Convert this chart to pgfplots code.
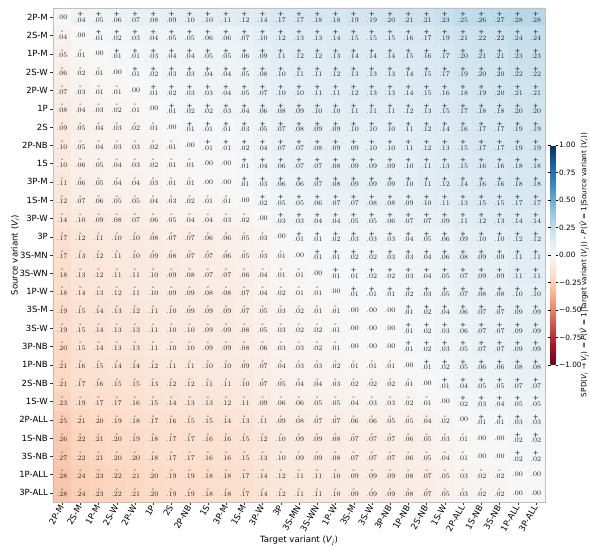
\documentclass[border=0pt]{standalone}
\usepackage{fontspec}
\setmainfont{DejaVu Sans}
\usepackage{pgfplots}
\pgfplotsset{compat=1.18}

\newcommand\Vi{\textit{V}\textsubscript{\textit{i}}}
\newcommand\Vj{\textit{V}\textsubscript{\textit{j}}}
\newcommand\tickfont{\fontsize{8.5}{10}\selectfont}
\newcommand\valfont{\fontsize{7}{8}\selectfont}
\newcommand\cbfont{\fontsize{7.3}{9}\selectfont}
\newcommand\labfont{\fontsize{8.6}{10}\selectfont}

\newcommand\celllab[1]{%
  \ifdim#1pt>0.004pt\relax\def\sgn{+}%
  \else\ifdim#1pt<-0.004pt\relax\def\sgn{-}%
  \else\def\sgn{}\fi\fi
  \pgfmathparse{abs(#1)}\edef\av{\pgfmathresult}%
  \ifx\sgn\empty
    \pgfmathprintnumber[fixed,fixed zerofill,precision=2,skip 0.]{\av}%
  \else
    \shortstack{\sgn\\[-2pt]\pgfmathprintnumber[fixed,fixed zerofill,precision=2,skip 0.]{\av}}%
  \fi}

\begin{document}
\begin{tikzpicture}
\begin{axis}[
  name=main,
  scale only axis, width=492pt, height=494pt,
  xmin=-0.5, xmax=26.5, ymin=-0.5, ymax=26.5,
  y dir=reverse, enlargelimits=false, axis on top,
  xtick={0,...,26}, ytick={0,...,26},
  xticklabels={2P-M,2S-M,1P-M,2S-W,2P-W,1P,2S,2P-NB,1S,3P-M,1S-M,3P-W,3P,3S-MN,3S-WN,1P-W,3S-M,3S-W,3P-NB,1P-NB,2S-NB,1S-W,2P-ALL,1S-NB,3S-NB,1P-ALL,3P-ALL},
  yticklabels={2P-M,2S-M,1P-M,2S-W,2P-W,1P,2S,2P-NB,1S,3P-M,1S-M,3P-W,3P,3S-MN,3S-WN,1P-W,3S-M,3S-W,3P-NB,1P-NB,2S-NB,1S-W,2P-ALL,1S-NB,3S-NB,1P-ALL,3P-ALL},
  tick label style={font=\tickfont},
  xticklabel style={rotate=60, anchor=east, inner sep=1pt},
  yticklabel style={inner sep=2pt},
  tick align=outside, tick pos=left, major tick length=3pt,
  tick style={black!80},
  axis line style={gray!50},
  xlabel={Target variant (\Vj)}, ylabel={Source variant (\Vi)},
  label style={font=\labfont},
  xlabel style={at={(axis description cs:0.5,-0.079)}, anchor=center},
  ylabel style={at={(axis description cs:-0.077,0.5)}, anchor=center},
  colormap={RdBu}{rgb255=(103,0,31) rgb255=(178,24,43) rgb255=(214,96,77) rgb255=(244,165,130) rgb255=(253,219,199) rgb255=(247,247,247) rgb255=(209,229,240) rgb255=(146,197,222) rgb255=(67,147,195) rgb255=(33,102,172) rgb255=(5,48,97)},
  point meta min=-1, point meta max=1,
  colorbar,
  colorbar style={
    at={(parent axis.north east)}, anchor=north west, xshift=-3pt, yshift=-137pt,
    scale only axis, width=5pt, height=220pt,
    ytick={-1,-0.75,-0.5,-0.25,0,0.25,0.5,0.75,1},
    yticklabels={−1.00,−0.75,−0.50,−0.25,0.00,0.25,0.50,0.75,1.00},
    yticklabel style={font=\cbfont, inner sep=1pt},
    major tick length=2.5pt, tick align=outside,
    axis line style={draw=none}, tick style={black},
  },
  clip=false,
]
\addplot[matrix plot*, mesh/cols=27, point meta=explicit,
  visualization depends on={value \thisrow{c}\as\cval},
  nodes near coords={\celllab{\cval}},
  nodes near coords style={anchor=center, font=\valfont, inner sep=0pt, text=black!85}]
table[meta=c, row sep=\\] {
x y c\\
0 0 0\\ 1 0 0.04\\ 2 0 0.05\\ 3 0 0.06\\ 4 0 0.07\\ 5 0 0.08\\ 6 0 0.09\\ 7 0 0.10\\ 8 0 0.10\\ 9 0 0.11\\ 10 0 0.12\\ 11 0 0.14\\ 12 0 0.17\\ 13 0 0.17\\ 14 0 0.18\\ 15 0 0.18\\ 16 0 0.19\\ 17 0 0.19\\ 18 0 0.20\\ 19 0 0.21\\ 20 0 0.21\\ 21 0 0.23\\ 22 0 0.25\\ 23 0 0.26\\ 24 0 0.27\\ 25 0 0.28\\ 26 0 0.28\\
0 1 -0.04\\ 1 1 0\\ 2 1 0.01\\ 3 1 0.02\\ 4 1 0.03\\ 5 1 0.04\\ 6 1 0.05\\ 7 1 0.05\\ 8 1 0.06\\ 9 1 0.06\\ 10 1 0.07\\ 11 1 0.10\\ 12 1 0.12\\ 13 1 0.13\\ 14 1 0.13\\ 15 1 0.14\\ 16 1 0.15\\ 17 1 0.15\\ 18 1 0.15\\ 19 1 0.16\\ 20 1 0.17\\ 21 1 0.19\\ 22 1 0.21\\ 23 1 0.22\\ 24 1 0.22\\ 25 1 0.24\\ 26 1 0.24\\
0 2 -0.05\\ 1 2 -0.01\\ 2 2 0\\ 3 2 0.01\\ 4 2 0.01\\ 5 2 0.03\\ 6 2 0.04\\ 7 2 0.04\\ 8 2 0.05\\ 9 2 0.05\\ 10 2 0.06\\ 11 2 0.09\\ 12 2 0.11\\ 13 2 0.12\\ 14 2 0.12\\ 15 2 0.13\\ 16 2 0.14\\ 17 2 0.14\\ 18 2 0.14\\ 19 2 0.15\\ 20 2 0.16\\ 21 2 0.17\\ 22 2 0.20\\ 23 2 0.21\\ 24 2 0.21\\ 25 2 0.23\\ 26 2 0.23\\
0 3 -0.06\\ 1 3 -0.02\\ 2 3 -0.01\\ 3 3 0\\ 4 3 0.01\\ 5 3 0.02\\ 6 3 0.03\\ 7 3 0.03\\ 8 3 0.04\\ 9 3 0.04\\ 10 3 0.05\\ 11 3 0.08\\ 12 3 0.10\\ 13 3 0.11\\ 14 3 0.11\\ 15 3 0.12\\ 16 3 0.13\\ 17 3 0.13\\ 18 3 0.13\\ 19 3 0.14\\ 20 3 0.15\\ 21 3 0.17\\ 22 3 0.19\\ 23 3 0.20\\ 24 3 0.20\\ 25 3 0.22\\ 26 3 0.22\\
0 4 -0.07\\ 1 4 -0.03\\ 2 4 -0.01\\ 3 4 -0.01\\ 4 4 0\\ 5 4 0.01\\ 6 4 0.02\\ 7 4 0.03\\ 8 4 0.03\\ 9 4 0.04\\ 10 4 0.05\\ 11 4 0.07\\ 12 4 0.10\\ 13 4 0.10\\ 14 4 0.11\\ 15 4 0.11\\ 16 4 0.12\\ 17 4 0.13\\ 18 4 0.13\\ 19 4 0.14\\ 20 4 0.15\\ 21 4 0.16\\ 22 4 0.18\\ 23 4 0.19\\ 24 4 0.20\\ 25 4 0.21\\ 26 4 0.21\\
0 5 -0.08\\ 1 5 -0.04\\ 2 5 -0.03\\ 3 5 -0.02\\ 4 5 -0.01\\ 5 5 0\\ 6 5 0.01\\ 7 5 0.02\\ 8 5 0.02\\ 9 5 0.03\\ 10 5 0.04\\ 11 5 0.06\\ 12 5 0.08\\ 13 5 0.09\\ 14 5 0.10\\ 15 5 0.10\\ 16 5 0.11\\ 17 5 0.11\\ 18 5 0.11\\ 19 5 0.12\\ 20 5 0.13\\ 21 5 0.15\\ 22 5 0.17\\ 23 5 0.18\\ 24 5 0.18\\ 25 5 0.20\\ 26 5 0.20\\
0 6 -0.09\\ 1 6 -0.05\\ 2 6 -0.04\\ 3 6 -0.03\\ 4 6 -0.02\\ 5 6 -0.01\\ 6 6 0\\ 7 6 0.01\\ 8 6 0.01\\ 9 6 0.01\\ 10 6 0.03\\ 11 6 0.05\\ 12 6 0.07\\ 13 6 0.08\\ 14 6 0.09\\ 15 6 0.09\\ 16 6 0.10\\ 17 6 0.10\\ 18 6 0.10\\ 19 6 0.11\\ 20 6 0.12\\ 21 6 0.14\\ 22 6 0.16\\ 23 6 0.17\\ 24 6 0.17\\ 25 6 0.19\\ 26 6 0.19\\
0 7 -0.10\\ 1 7 -0.05\\ 2 7 -0.04\\ 3 7 -0.03\\ 4 7 -0.03\\ 5 7 -0.02\\ 6 7 -0.01\\ 7 7 0\\ 8 7 0.01\\ 9 7 0.01\\ 10 7 0.02\\ 11 7 0.04\\ 12 7 0.07\\ 13 7 0.07\\ 14 7 0.08\\ 15 7 0.09\\ 16 7 0.09\\ 17 7 0.10\\ 18 7 0.10\\ 19 7 0.11\\ 20 7 0.12\\ 21 7 0.13\\ 22 7 0.15\\ 23 7 0.17\\ 24 7 0.17\\ 25 7 0.19\\ 26 7 0.19\\
0 8 -0.10\\ 1 8 -0.06\\ 2 8 -0.05\\ 3 8 -0.04\\ 4 8 -0.03\\ 5 8 -0.02\\ 6 8 -0.01\\ 7 8 -0.01\\ 8 8 0\\ 9 8 0\\ 10 8 0.01\\ 11 8 0.04\\ 12 8 0.06\\ 13 8 0.07\\ 14 8 0.07\\ 15 8 0.08\\ 16 8 0.09\\ 17 8 0.09\\ 18 8 0.09\\ 19 8 0.10\\ 20 8 0.11\\ 21 8 0.13\\ 22 8 0.15\\ 23 8 0.16\\ 24 8 0.16\\ 25 8 0.18\\ 26 8 0.18\\
0 9 -0.11\\ 1 9 -0.06\\ 2 9 -0.05\\ 3 9 -0.04\\ 4 9 -0.04\\ 5 9 -0.03\\ 6 9 -0.01\\ 7 9 -0.01\\ 8 9 0\\ 9 9 0\\ 10 9 0.01\\ 11 9 0.03\\ 12 9 0.06\\ 13 9 0.06\\ 14 9 0.07\\ 15 9 0.08\\ 16 9 0.09\\ 17 9 0.09\\ 18 9 0.09\\ 19 9 0.10\\ 20 9 0.11\\ 21 9 0.12\\ 22 9 0.14\\ 23 9 0.16\\ 24 9 0.16\\ 25 9 0.18\\ 26 9 0.18\\
0 10 -0.12\\ 1 10 -0.07\\ 2 10 -0.06\\ 3 10 -0.05\\ 4 10 -0.05\\ 5 10 -0.04\\ 6 10 -0.03\\ 7 10 -0.02\\ 8 10 -0.01\\ 9 10 -0.01\\ 10 10 0\\ 11 10 0.02\\ 12 10 0.05\\ 13 10 0.05\\ 14 10 0.06\\ 15 10 0.07\\ 16 10 0.07\\ 17 10 0.08\\ 18 10 0.08\\ 19 10 0.09\\ 20 10 0.10\\ 21 10 0.11\\ 22 10 0.13\\ 23 10 0.15\\ 24 10 0.15\\ 25 10 0.17\\ 26 10 0.17\\
0 11 -0.14\\ 1 11 -0.10\\ 2 11 -0.09\\ 3 11 -0.08\\ 4 11 -0.07\\ 5 11 -0.06\\ 6 11 -0.05\\ 7 11 -0.04\\ 8 11 -0.04\\ 9 11 -0.03\\ 10 11 -0.02\\ 11 11 0\\ 12 11 0.03\\ 13 11 0.03\\ 14 11 0.04\\ 15 11 0.04\\ 16 11 0.05\\ 17 11 0.05\\ 18 11 0.06\\ 19 11 0.07\\ 20 11 0.07\\ 21 11 0.09\\ 22 11 0.11\\ 23 11 0.12\\ 24 11 0.13\\ 25 11 0.14\\ 26 11 0.14\\
0 12 -0.17\\ 1 12 -0.12\\ 2 12 -0.11\\ 3 12 -0.10\\ 4 12 -0.10\\ 5 12 -0.08\\ 6 12 -0.07\\ 7 12 -0.07\\ 8 12 -0.06\\ 9 12 -0.06\\ 10 12 -0.05\\ 11 12 -0.03\\ 12 12 0\\ 13 12 0.01\\ 14 12 0.01\\ 15 12 0.02\\ 16 12 0.03\\ 17 12 0.03\\ 18 12 0.03\\ 19 12 0.04\\ 20 12 0.05\\ 21 12 0.06\\ 22 12 0.09\\ 23 12 0.10\\ 24 12 0.10\\ 25 12 0.12\\ 26 12 0.12\\
0 13 -0.17\\ 1 13 -0.13\\ 2 13 -0.12\\ 3 13 -0.11\\ 4 13 -0.10\\ 5 13 -0.09\\ 6 13 -0.08\\ 7 13 -0.07\\ 8 13 -0.07\\ 9 13 -0.06\\ 10 13 -0.05\\ 11 13 -0.03\\ 12 13 -0.01\\ 13 13 0\\ 14 13 0.01\\ 15 13 0.01\\ 16 13 0.02\\ 17 13 0.02\\ 18 13 0.03\\ 19 13 0.03\\ 20 13 0.04\\ 21 13 0.06\\ 22 13 0.08\\ 23 13 0.09\\ 24 13 0.09\\ 25 13 0.11\\ 26 13 0.11\\
0 14 -0.18\\ 1 14 -0.13\\ 2 14 -0.12\\ 3 14 -0.11\\ 4 14 -0.11\\ 5 14 -0.10\\ 6 14 -0.09\\ 7 14 -0.08\\ 8 14 -0.07\\ 9 14 -0.07\\ 10 14 -0.06\\ 11 14 -0.04\\ 12 14 -0.01\\ 13 14 -0.01\\ 14 14 0\\ 15 14 0.01\\ 16 14 0.01\\ 17 14 0.02\\ 18 14 0.02\\ 19 14 0.03\\ 20 14 0.04\\ 21 14 0.05\\ 22 14 0.07\\ 23 14 0.09\\ 24 14 0.09\\ 25 14 0.11\\ 26 14 0.11\\
0 15 -0.18\\ 1 15 -0.14\\ 2 15 -0.13\\ 3 15 -0.12\\ 4 15 -0.11\\ 5 15 -0.10\\ 6 15 -0.09\\ 7 15 -0.09\\ 8 15 -0.08\\ 9 15 -0.08\\ 10 15 -0.07\\ 11 15 -0.04\\ 12 15 -0.02\\ 13 15 -0.01\\ 14 15 -0.01\\ 15 15 0\\ 16 15 0.01\\ 17 15 0.01\\ 18 15 0.01\\ 19 15 0.02\\ 20 15 0.03\\ 21 15 0.05\\ 22 15 0.07\\ 23 15 0.08\\ 24 15 0.08\\ 25 15 0.10\\ 26 15 0.10\\
0 16 -0.19\\ 1 16 -0.15\\ 2 16 -0.14\\ 3 16 -0.13\\ 4 16 -0.12\\ 5 16 -0.11\\ 6 16 -0.10\\ 7 16 -0.09\\ 8 16 -0.09\\ 9 16 -0.09\\ 10 16 -0.07\\ 11 16 -0.05\\ 12 16 -0.03\\ 13 16 -0.02\\ 14 16 -0.01\\ 15 16 -0.01\\ 16 16 0\\ 17 16 0\\ 18 16 0\\ 19 16 0.01\\ 20 16 0.02\\ 21 16 0.04\\ 22 16 0.06\\ 23 16 0.07\\ 24 16 0.07\\ 25 16 0.09\\ 26 16 0.09\\
0 17 -0.19\\ 1 17 -0.15\\ 2 17 -0.14\\ 3 17 -0.13\\ 4 17 -0.13\\ 5 17 -0.11\\ 6 17 -0.10\\ 7 17 -0.10\\ 8 17 -0.09\\ 9 17 -0.09\\ 10 17 -0.08\\ 11 17 -0.05\\ 12 17 -0.03\\ 13 17 -0.02\\ 14 17 -0.02\\ 15 17 -0.01\\ 16 17 0\\ 17 17 0\\ 18 17 0\\ 19 17 0.01\\ 20 17 0.02\\ 21 17 0.03\\ 22 17 0.06\\ 23 17 0.07\\ 24 17 0.07\\ 25 17 0.09\\ 26 17 0.09\\
0 18 -0.20\\ 1 18 -0.15\\ 2 18 -0.14\\ 3 18 -0.13\\ 4 18 -0.13\\ 5 18 -0.11\\ 6 18 -0.10\\ 7 18 -0.10\\ 8 18 -0.09\\ 9 18 -0.09\\ 10 18 -0.08\\ 11 18 -0.06\\ 12 18 -0.03\\ 13 18 -0.03\\ 14 18 -0.02\\ 15 18 -0.01\\ 16 18 0\\ 17 18 0\\ 18 18 0\\ 19 18 0.01\\ 20 18 0.02\\ 21 18 0.03\\ 22 18 0.05\\ 23 18 0.07\\ 24 18 0.07\\ 25 18 0.09\\ 26 18 0.09\\
0 19 -0.21\\ 1 19 -0.16\\ 2 19 -0.15\\ 3 19 -0.14\\ 4 19 -0.14\\ 5 19 -0.12\\ 6 19 -0.11\\ 7 19 -0.11\\ 8 19 -0.10\\ 9 19 -0.10\\ 10 19 -0.09\\ 11 19 -0.07\\ 12 19 -0.04\\ 13 19 -0.03\\ 14 19 -0.03\\ 15 19 -0.02\\ 16 19 -0.01\\ 17 19 -0.01\\ 18 19 -0.01\\ 19 19 0\\ 20 19 0.01\\ 21 19 0.02\\ 22 19 0.05\\ 23 19 0.06\\ 24 19 0.06\\ 25 19 0.08\\ 26 19 0.08\\
0 20 -0.21\\ 1 20 -0.17\\ 2 20 -0.16\\ 3 20 -0.15\\ 4 20 -0.15\\ 5 20 -0.13\\ 6 20 -0.12\\ 7 20 -0.12\\ 8 20 -0.11\\ 9 20 -0.11\\ 10 20 -0.10\\ 11 20 -0.07\\ 12 20 -0.05\\ 13 20 -0.04\\ 14 20 -0.04\\ 15 20 -0.03\\ 16 20 -0.02\\ 17 20 -0.02\\ 18 20 -0.02\\ 19 20 -0.01\\ 20 20 0\\ 21 20 0.01\\ 22 20 0.04\\ 23 20 0.05\\ 24 20 0.05\\ 25 20 0.07\\ 26 20 0.07\\
0 21 -0.23\\ 1 21 -0.19\\ 2 21 -0.17\\ 3 21 -0.17\\ 4 21 -0.16\\ 5 21 -0.15\\ 6 21 -0.14\\ 7 21 -0.13\\ 8 21 -0.13\\ 9 21 -0.12\\ 10 21 -0.11\\ 11 21 -0.09\\ 12 21 -0.06\\ 13 21 -0.06\\ 14 21 -0.05\\ 15 21 -0.05\\ 16 21 -0.04\\ 17 21 -0.03\\ 18 21 -0.03\\ 19 21 -0.02\\ 20 21 -0.01\\ 21 21 0\\ 22 21 0.02\\ 23 21 0.03\\ 24 21 0.04\\ 25 21 0.05\\ 26 21 0.05\\
0 22 -0.25\\ 1 22 -0.21\\ 2 22 -0.20\\ 3 22 -0.19\\ 4 22 -0.18\\ 5 22 -0.17\\ 6 22 -0.16\\ 7 22 -0.15\\ 8 22 -0.15\\ 9 22 -0.14\\ 10 22 -0.13\\ 11 22 -0.11\\ 12 22 -0.09\\ 13 22 -0.08\\ 14 22 -0.07\\ 15 22 -0.07\\ 16 22 -0.06\\ 17 22 -0.06\\ 18 22 -0.05\\ 19 22 -0.05\\ 20 22 -0.04\\ 21 22 -0.02\\ 22 22 0\\ 23 22 0.01\\ 24 22 0.01\\ 25 22 0.03\\ 26 22 0.03\\
0 23 -0.26\\ 1 23 -0.22\\ 2 23 -0.21\\ 3 23 -0.20\\ 4 23 -0.19\\ 5 23 -0.18\\ 6 23 -0.17\\ 7 23 -0.17\\ 8 23 -0.16\\ 9 23 -0.16\\ 10 23 -0.15\\ 11 23 -0.12\\ 12 23 -0.10\\ 13 23 -0.09\\ 14 23 -0.09\\ 15 23 -0.08\\ 16 23 -0.07\\ 17 23 -0.07\\ 18 23 -0.07\\ 19 23 -0.06\\ 20 23 -0.05\\ 21 23 -0.03\\ 22 23 -0.01\\ 23 23 0\\ 24 23 0\\ 25 23 0.02\\ 26 23 0.02\\
0 24 -0.27\\ 1 24 -0.22\\ 2 24 -0.21\\ 3 24 -0.20\\ 4 24 -0.20\\ 5 24 -0.18\\ 6 24 -0.17\\ 7 24 -0.17\\ 8 24 -0.16\\ 9 24 -0.16\\ 10 24 -0.15\\ 11 24 -0.13\\ 12 24 -0.10\\ 13 24 -0.09\\ 14 24 -0.09\\ 15 24 -0.08\\ 16 24 -0.07\\ 17 24 -0.07\\ 18 24 -0.07\\ 19 24 -0.06\\ 20 24 -0.05\\ 21 24 -0.04\\ 22 24 -0.01\\ 23 24 0\\ 24 24 0\\ 25 24 0.02\\ 26 24 0.02\\
0 25 -0.28\\ 1 25 -0.24\\ 2 25 -0.23\\ 3 25 -0.22\\ 4 25 -0.21\\ 5 25 -0.20\\ 6 25 -0.19\\ 7 25 -0.19\\ 8 25 -0.18\\ 9 25 -0.18\\ 10 25 -0.17\\ 11 25 -0.14\\ 12 25 -0.12\\ 13 25 -0.11\\ 14 25 -0.11\\ 15 25 -0.10\\ 16 25 -0.09\\ 17 25 -0.09\\ 18 25 -0.09\\ 19 25 -0.08\\ 20 25 -0.07\\ 21 25 -0.05\\ 22 25 -0.03\\ 23 25 -0.02\\ 24 25 -0.02\\ 25 25 0\\ 26 25 0\\
0 26 -0.28\\ 1 26 -0.24\\ 2 26 -0.23\\ 3 26 -0.22\\ 4 26 -0.21\\ 5 26 -0.20\\ 6 26 -0.19\\ 7 26 -0.19\\ 8 26 -0.18\\ 9 26 -0.18\\ 10 26 -0.17\\ 11 26 -0.14\\ 12 26 -0.12\\ 13 26 -0.11\\ 14 26 -0.11\\ 15 26 -0.10\\ 16 26 -0.09\\ 17 26 -0.09\\ 18 26 -0.09\\ 19 26 -0.08\\ 20 26 -0.07\\ 21 26 -0.05\\ 22 26 -0.03\\ 23 26 -0.02\\ 24 26 -0.02\\ 25 26 0\\ 26 26 0\\
};
\coordinate (sw) at (axis description cs:0,0);
\coordinate (ne) at (axis description cs:1,1);
\node[rotate=90, font=\cbfont, inner sep=0pt] at (axis description cs:1.08,0.48)
  {SPD(\Vi\ → \Vj) = \textit{P}(\textit{V̂} = 1|Target variant (\Vj)) - \textit{P}(\textit{V̂} = 1|Source variant (\Vi))};
\end{axis}
\pgfresetboundingbox
\path ([shift={(-53pt,-45pt)}]sw) rectangle ([shift={(45pt,8pt)}]ne);
\end{tikzpicture}
\end{document}
